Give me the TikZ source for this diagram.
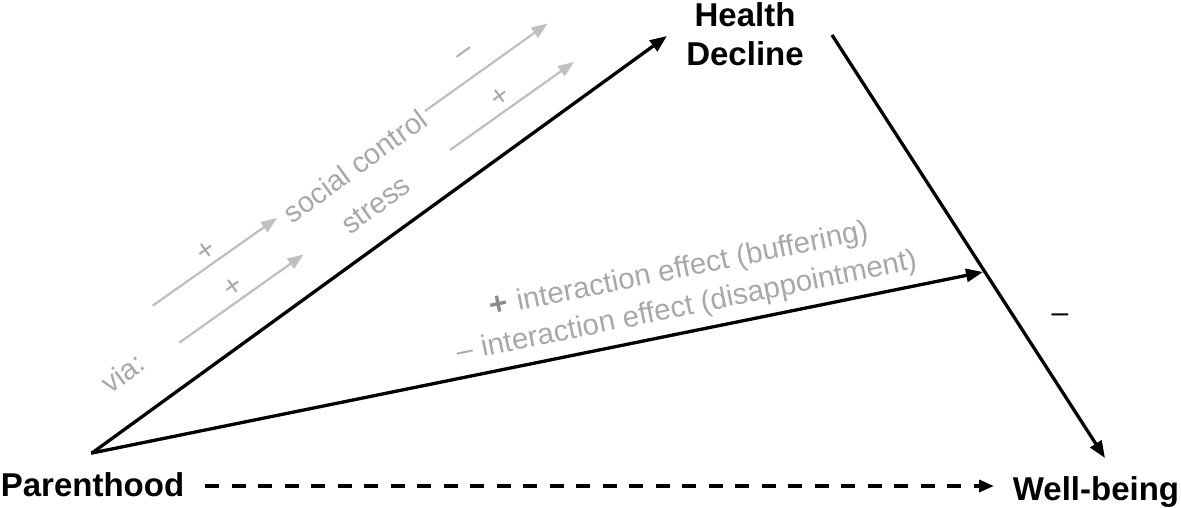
\documentclass[tikz,border=0pt]{standalone}
\usepackage{fontspec}
\setmainfont{Liberation Sans}
\usetikzlibrary{arrows.meta}
\definecolor{txtgray}{HTML}{A8A8A8}
\definecolor{arrgray}{HTML}{C0C0C0}
\definecolor{plusgray}{HTML}{8C8C8C}
\tikzset{
  mainlbl/.style={font=\fontsize{33}{39}\selectfont\bfseries, inner sep=0pt},
  graytxt/.style={text=txtgray, font=\fontsize{29}{37}\selectfont, inner sep=0pt},
  signlbl/.style={text=txtgray, font=\fontsize{30}{30}\selectfont, inner sep=0pt},
  blkarrow/.style={line width=3.3pt, -{Triangle[length=17pt,width=13pt]}},
  grayarrow/.style={draw=arrgray, line width=2.3pt, -{Triangle[length=16pt,width=12pt]}},
  dasharrow/.style={line width=3.5pt, dash pattern=on 14pt off 12.5pt, -{Triangle[length=15pt,width=12pt]}}
}
\begin{document}
\begin{tikzpicture}[x=1pt,y=-1pt]
\useasboundingbox (0,0) rectangle (1181,507);
% main labels
\node[mainlbl, anchor=base] (par) at (92.5,496) {Parenthood};
\node[mainlbl, anchor=base] (wb) at (1096,500) {Well-being};
\node[mainlbl, anchor=north, align=center] (hd) at (745,2) {Health\\Decline};
% endpoints
\coordinate (pa) at (92,453);
\coordinate (hdin) at (667,36);
\coordinate (hdout) at (832,35);
\coordinate (wbin) at (1105,458);
\coordinate (mod) at (983,272);
\coordinate (dstart) at (205,486);
\coordinate (dend) at (994,486);
% black connectors
\draw[blkarrow] (pa) -- (hdin);
\draw[blkarrow, shorten <=-1pt] (pa) -- (mod);
\draw[blkarrow] (hdout) -- (wbin);
\draw[dasharrow] (dstart) -- (dend);
\node[font=\fontsize{30}{30}\selectfont, inner sep=0pt] (neg) at (1060,318) {--};
% gray mediating arrows
\coordinate (a1s) at (152.7,305.7); \coordinate (a1e) at (277,218);
\coordinate (a2s) at (179.3,342.7); \coordinate (a2e) at (303.5,254.5);
\coordinate (a3s) at (425,111); \coordinate (a3e) at (547.5,23.5);
\coordinate (a4s) at (450,150); \coordinate (a4e) at (574,62);
\draw[grayarrow] (a1s) -- (a1e);
\draw[grayarrow] (a2s) -- (a2e);
\draw[grayarrow] (a3s) -- (a3e);
\draw[grayarrow] (a4s) -- (a4e);
\node[signlbl, rotate=36] (s1) at (206.7,251.7) {+};
\node[signlbl, rotate=36] (s2) at (233.3,287.3) {+};
\node[signlbl, rotate=36] (s3) at (466,55) {--};
\node[signlbl, rotate=36] (s4) at (500.7,97.7) {+};
\node[graytxt, rotate=36] (sc) at (355,166) {social control};
\node[graytxt, rotate=36] (st) at (376,205) {stress};
\node[graytxt, rotate=36] (via) at (123,373) {via:};
% interaction labels
\node[graytxt, font=\fontsize{29.5}{38}\selectfont, rotate=11.5, align=center] (ia) at (683,289)
  {{\color{plusgray}\bfseries\fontsize{32}{38}\selectfont +}\hspace{0.3em}interaction effect (buffering)\\--\hspace{0.3em}interaction effect (disappointment)};
\end{tikzpicture}
\end{document}
